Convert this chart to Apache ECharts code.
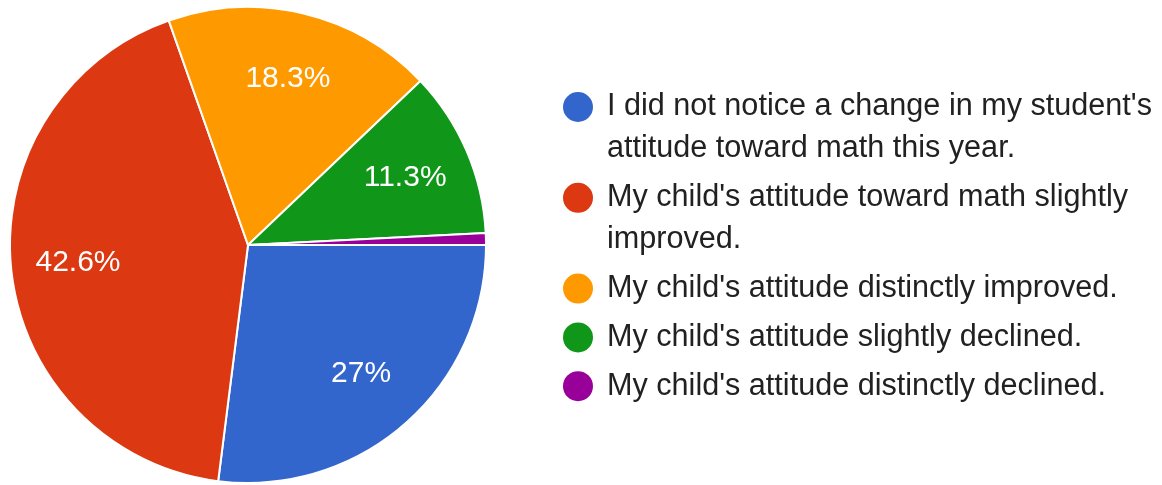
<!DOCTYPE html>
<html>
<head>
<meta charset="utf-8">
<script src="https://cdn.jsdelivr.net/npm/echarts@6/dist/echarts.min.js"></script>
<style>
  html, body { margin: 0; padding: 0; background: #ffffff; }
  #chart { width: 1162px; height: 485px; }
</style>
</head>
<body>
<div id="chart"></div>
<script>
// Survey answers and their shares of all responses (percent).
const categories = [
  "I did not notice a change in my student's attitude toward math this year.",
  "My child's attitude toward math slightly improved.",
  "My child's attitude distinctly improved.",
  "My child's attitude slightly declined.",
  "My child's attitude distinctly declined."
];
const shares = [27, 42.6, 18.3, 11.3, 0.8];
const colors = ['#3366cc', '#dc3912', '#ff9900', '#109618', '#990099'];

const FONT = '"Liberation Sans", Arial, Helvetica, sans-serif';
const LEGEND_FONT_SIZE = 30.6;
const LEGEND_TEXT_WIDTH = 555;

// Legend entries that wrap onto two lines get a dot pinned to the first line:
// a 30px circle at the top of a taller icon box.
const TOP_DOT = 'path://M15,0A15,15,0,1,1,15,30A15,15,0,1,1,15,0ZM14.9,72L15.1,72Z';

const measureCtx = document.createElement('canvas').getContext('2d');
measureCtx.font = LEGEND_FONT_SIZE + 'px ' + FONT;
function wraps(text) {
  return measureCtx.measureText(text).width > LEGEND_TEXT_WIDTH;
}

const pieData = categories.map((name, i) => ({
  name: name,
  value: shares[i],
  itemStyle: { color: colors[i] }
}));

const chart = echarts.init(document.getElementById('chart'), null, { renderer: 'canvas' });

chart.setOption({
  animation: false,
  backgroundColor: '#ffffff',
  color: colors,
  legend: {
    orient: 'vertical',
    left: 563,
    top: 86,
    padding: 0,
    itemGap: 6.8,
    itemWidth: 30,
    itemHeight: 72,
    selectedMode: false,
    itemStyle: { borderWidth: 0 },
    textStyle: {
      fontFamily: FONT,
      fontSize: LEGEND_FONT_SIZE,
      lineHeight: 42,
      color: '#212121',
      width: LEGEND_TEXT_WIDTH,
      overflow: 'break',
      padding: [0, 0, 0, 9]
    },
    data: categories.map(name => ({ name: name, icon: wraps(name) ? TOP_DOT : 'circle' }))
  },
  series: [
    {
      // the slices
      type: 'pie',
      center: [248, 245],
      radius: [0, 238],
      startAngle: 0,
      clockwise: true,
      silent: true,
      label: { show: false },
      labelLine: { show: false },
      itemStyle: { borderColor: '#ffffff', borderWidth: 2 },
      data: pieData
    },
    {
      // transparent ring that carries the percentage labels
      type: 'pie',
      center: [248, 245],
      radius: [98, 238],
      startAngle: 0,
      clockwise: true,
      silent: true,
      avoidLabelOverlap: false,
      minShowLabelAngle: 5,
      itemStyle: { color: 'rgba(0,0,0,0)', borderWidth: 0 },
      label: {
        show: true,
        position: 'inside',
        formatter: p => p.value + '%',
        color: '#ffffff',
        fontFamily: FONT,
        fontSize: 30
      },
      labelLine: { show: false },
      data: categories.map((name, i) => ({ name: name, value: shares[i] }))
    }
  ]
});
</script>
</body>
</html>
